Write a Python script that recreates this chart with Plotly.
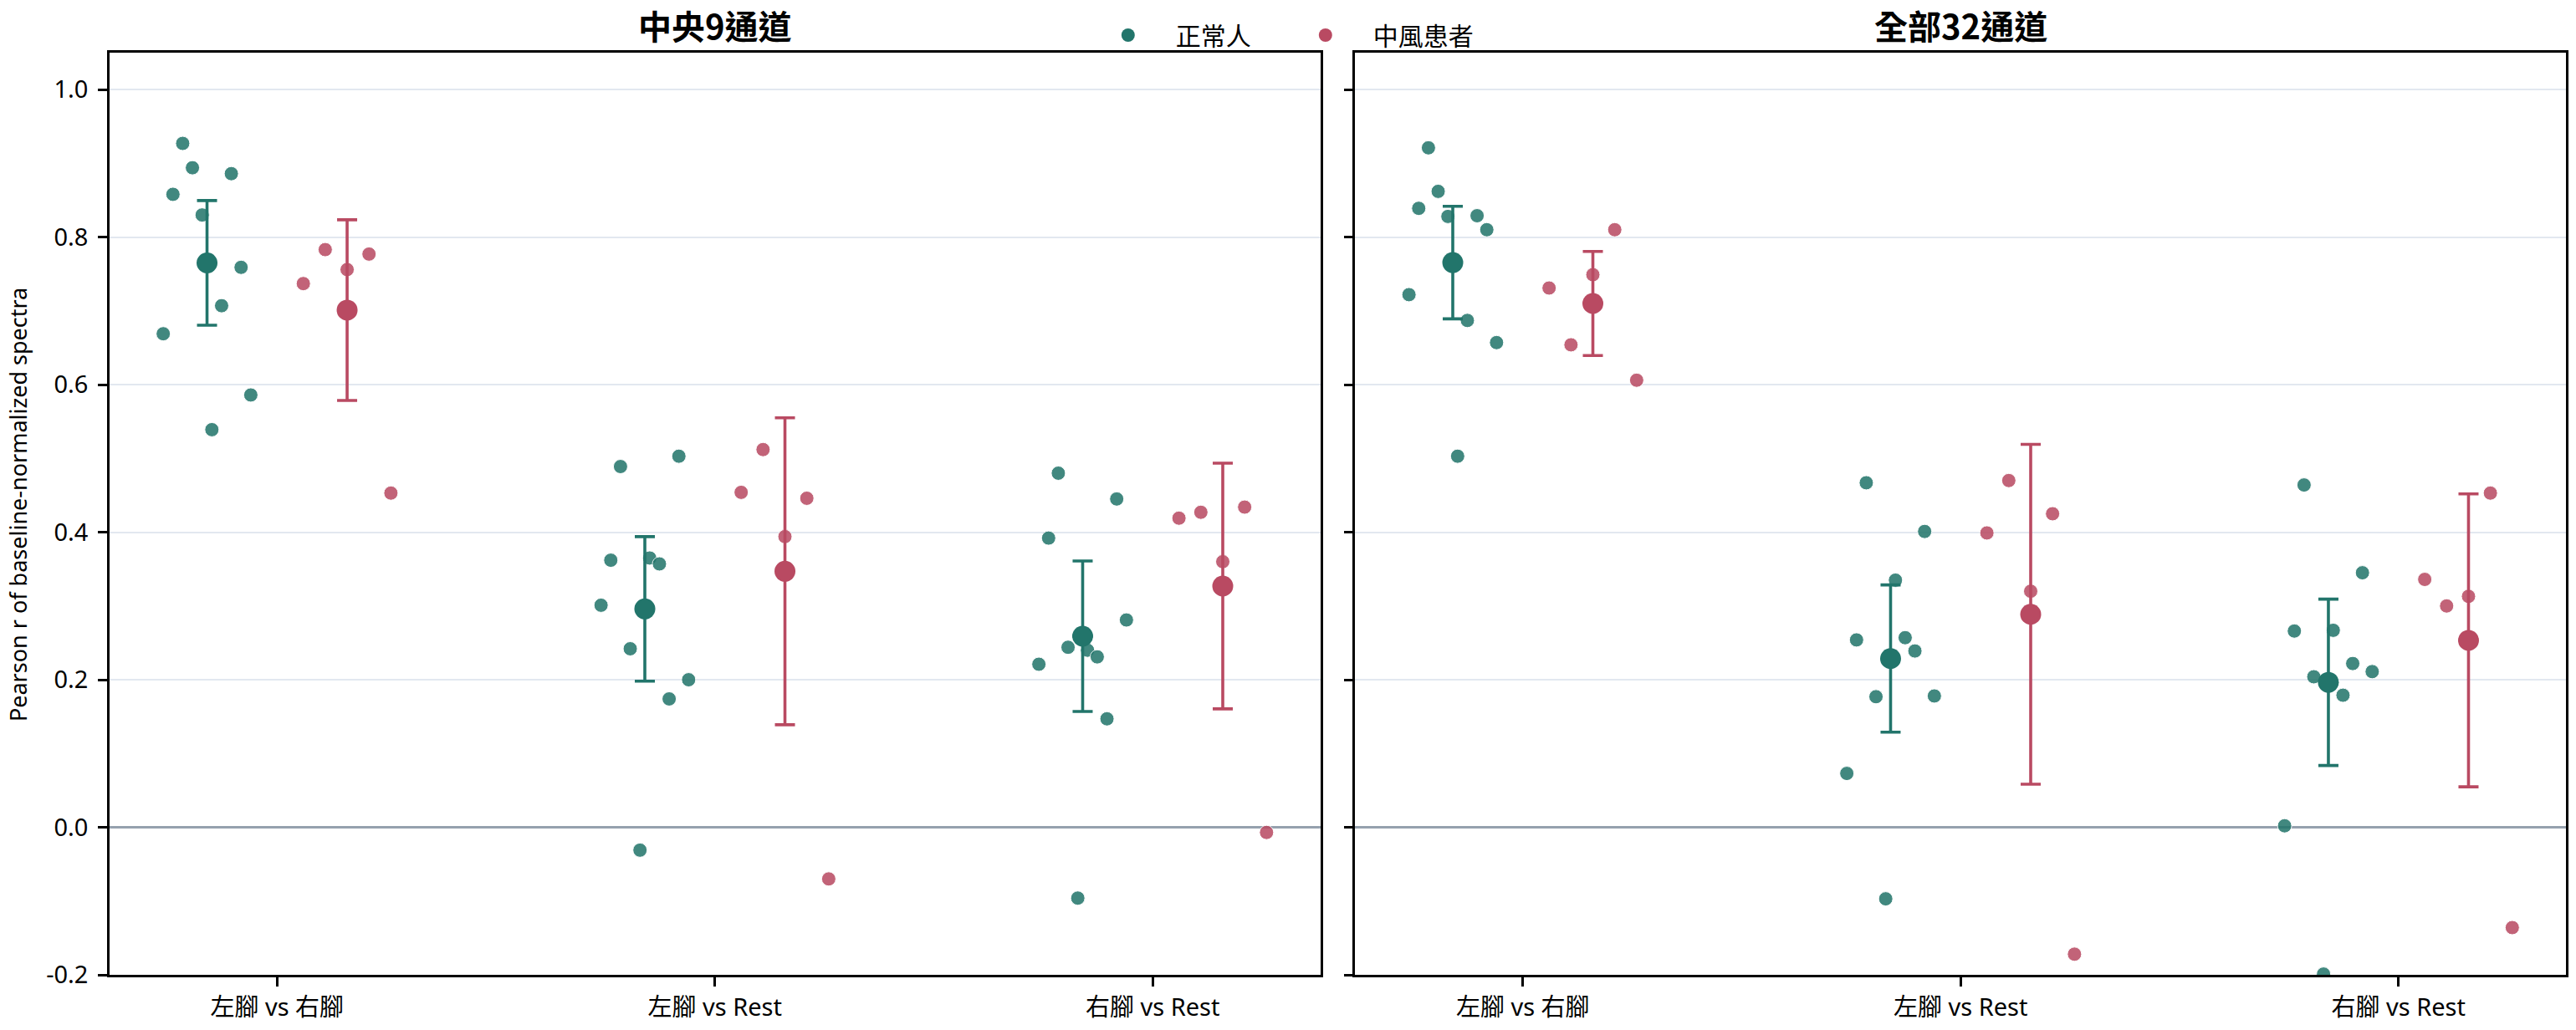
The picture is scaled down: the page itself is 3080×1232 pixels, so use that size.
import numpy as np
import plotly.graph_objects as go

# ---------------- data ----------------
categories = ["左腳 vs 右腳", "左腳 vs Rest", "右腳 vs Rest"]
panel_titles = ["中央9通道", "全部32通道"]
group_names = ["正常人", "中風患者"]

# individual subjects, per category, in subject order
healthy_center9 = [
    [0.669, 0.858, 0.927, 0.894, 0.830, 0.539, 0.707, 0.886, 0.759, 0.586],
    [0.301, 0.362, 0.489, 0.242, -0.031, 0.365, 0.357, 0.174, 0.503, 0.200],
    [0.221, 0.392, 0.480, 0.244, -0.096, 0.240, 0.231, 0.147, 0.445, 0.281],
]
stroke_center9 = [
    [0.737, 0.783, 0.756, 0.777, 0.453],
    [0.454, 0.512, 0.394, 0.446, -0.070],
    [0.419, 0.427, 0.360, 0.434, -0.007],
]
healthy_all32 = [
    [0.722, 0.839, 0.921, 0.862, 0.828, 0.503, 0.687, 0.829, 0.810, 0.657],
    [0.073, 0.254, 0.467, 0.177, -0.097, 0.335, 0.257, 0.239, 0.401, 0.178],
    [0.002, 0.266, 0.464, 0.204, -0.199, 0.267, 0.179, 0.222, 0.345, 0.211],
]
stroke_all32 = [
    [0.731, 0.654, 0.749, 0.810, 0.606],
    [0.399, 0.470, 0.320, 0.425, -0.172],
    [0.336, 0.300, 0.313, 0.453, -0.136],
]

# group means and 95% CI half-widths
healthy_center9_mean = [0.765, 0.296, 0.259]
healthy_center9_ci = [0.0845, 0.098, 0.102]
stroke_center9_mean = [0.701, 0.347, 0.327]
stroke_center9_ci = [0.1225, 0.208, 0.1665]
healthy_all32_mean = [0.7655, 0.2287, 0.1965]
healthy_all32_ci = [0.0763, 0.0998, 0.1128]
stroke_all32_mean = [0.710, 0.2887, 0.2534]
stroke_all32_ci = [0.0706, 0.2303, 0.1985]

y_ticks = [-0.2, 0.0, 0.2, 0.4, 0.6, 0.8, 1.0]

# ---------------- style ----------------
TEAL = "#22756b"
CRIMSON = "#b94a62"
LATIN = "Noto Sans, Noto Sans CJK TC, sans-serif"
GROUP_OFFSET = 0.16
JITTER = 0.1

W, H = 3080, 1232
ML, MR, MT, MB = 131, 9, 63, 66
PW = W - ML - MR
left_dom = [0.0, (1580 - ML) / PW]
right_dom = [(1622 - ML) / PW, 1.0]

panels = [
    dict(xa="x", ya="y",
         groups=[(healthy_center9, healthy_center9_mean, healthy_center9_ci),
                 (stroke_center9, stroke_center9_mean, stroke_center9_ci)]),
    dict(xa="x2", ya="y2",
         groups=[(healthy_all32, healthy_all32_mean, healthy_all32_ci),
                 (stroke_all32, stroke_all32_mean, stroke_all32_ci)]),
]
colors = [TEAL, CRIMSON]
offsets = [-GROUP_OFFSET, GROUP_OFFSET]

fig = go.Figure()
for pi, panel in enumerate(panels):
    for gi, (subj, means, cis) in enumerate(panel["groups"]):
        xs, ys = [], []
        for ci_idx, vals in enumerate(subj):
            jit = np.linspace(-JITTER, JITTER, len(vals))
            for j, v in zip(jit, vals):
                xs.append(ci_idx + offsets[gi] + j)
                ys.append(v)
        fig.add_trace(go.Scatter(
            x=xs, y=ys, mode="markers", xaxis=panel["xa"], yaxis=panel["ya"],
            marker=dict(color=colors[gi], size=17, opacity=0.86,
                        line=dict(color="white", width=1)),
            showlegend=False, legendgroup=group_names[gi], hoverinfo="skip",
        ))
        fig.add_trace(go.Scatter(
            x=[i + offsets[gi] for i in range(len(categories))], y=means,
            mode="markers", xaxis=panel["xa"], yaxis=panel["ya"],
            marker=dict(color=colors[gi], size=25),
            error_y=dict(type="data", array=cis, visible=True,
                         color=colors[gi], thickness=3.6, width=12),
            name=group_names[gi], legendgroup=group_names[gi],
            showlegend=(pi == 0),
        ))

axis_common = dict(
    showline=True, mirror=True, linecolor="black", linewidth=2.5,
    ticks="outside", ticklen=11, tickwidth=2.5, tickcolor="black",
)
xrange = [-0.3826, 2.3826]
for name, dom in (("xaxis", left_dom), ("xaxis2", right_dom)):
    fig.update_layout({name: dict(
        domain=dom, range=xrange, tickmode="array",
        tickvals=list(range(len(categories))), ticktext=categories,
        showgrid=False, zeroline=False,
        tickfont=dict(family=LATIN, size=29, color="black"),
        **axis_common)})
fig.update_layout(xaxis2=dict(anchor="y2"))

for name, labels in (("yaxis", True), ("yaxis2", False)):
    fig.update_layout({name: dict(
        range=[-0.2, 1.05], tickmode="array", tickvals=y_ticks,
        ticktext=[f"{t:.1f}" for t in y_ticks], showticklabels=labels,
        showgrid=True, gridcolor="#e2e8f0", gridwidth=2,
        zeroline=True, zerolinecolor="#95a1ae", zerolinewidth=2.5,
        tickfont=dict(family=LATIN, size=29, color="black"),
        ticklabelstandoff=6,
        **axis_common)})
fig.update_layout(yaxis2=dict(anchor="x2", matches="y"))

annotations = []
for title, dom in zip(panel_titles, (left_dom, right_dom)):
    annotations.append(dict(
        text=f"<b>{title}</b>", xref="paper", yref="paper",
        x=(dom[0] + dom[1]) / 2, y=(H - MB - 30) / (H - MT - MB),
        xanchor="center", yanchor="middle", showarrow=False,
        font=dict(family="Noto Sans CJK TC, Noto Sans, sans-serif", size=40, color="black")))
annotations.append(dict(
    text="Pearson r of baseline-normalized spectra", xref="paper", yref="paper",
    x=(21 - ML) / PW, y=(H - MB - 604) / (H - MT - MB), textangle=-90,
    xanchor="center", yanchor="middle", showarrow=False,
    font=dict(family=LATIN, size=27, color="black")))

fig.update_layout(
    width=W, height=H, margin=dict(l=ML, r=MR, t=MT, b=MB),
    paper_bgcolor="white", plot_bgcolor="white",
    annotations=annotations,
    legend=dict(orientation="h", x=(1293 - ML) / PW, xanchor="left",
                y=(H - MB - 42) / (H - MT - MB), yanchor="middle",
                font=dict(family="Noto Sans CJK TC, Noto Sans, sans-serif", size=30, color="black"),
                itemwidth=104, entrywidth=117, entrywidthmode="pixels",
                bgcolor="rgba(0,0,0,0)"),
    font=dict(family=LATIN, color="black"),
)

fig.write_html("out.html")
